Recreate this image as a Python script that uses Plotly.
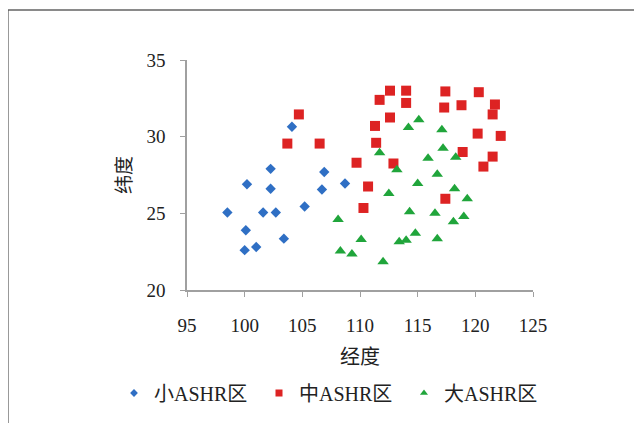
import plotly.graph_objects as go

# Small ASHR region (blue diamonds)
small_lon = [104.1, 102.25, 106.9, 100.2, 102.25, 106.7, 108.7, 98.5, 101.6, 102.7, 105.2, 100.1, 103.4, 100.0, 101.0]
small_lat = [30.65, 27.9, 27.7, 26.9, 26.6, 26.55, 26.95, 25.05, 25.05, 25.05, 25.45, 23.9, 23.35, 22.6, 22.8]

# Medium ASHR region (red squares)
mid_lon = [104.7, 103.7, 106.5, 109.7, 112.6, 114.0, 117.4, 120.3, 111.7, 114.0, 117.3, 118.8, 121.7,
           121.5, 112.6, 111.3, 120.2, 122.2, 111.4, 112.9, 118.9, 121.5, 120.7, 110.7, 110.3, 117.4]
mid_lat = [31.45, 29.55, 29.55, 28.3, 33.0, 33.0, 32.95, 32.9, 32.4, 32.2, 31.9, 32.05, 32.1,
           31.45, 31.25, 30.7, 30.2, 30.05, 29.6, 28.25, 29.0, 28.7, 28.05, 26.75, 25.35, 25.95]

# Large ASHR region (green triangles)
large_lon = [108.1, 108.3, 109.3, 115.1, 114.2, 117.1, 111.7, 117.2, 115.9, 118.3, 113.2, 116.7, 115.0,
             112.5, 118.2, 119.3, 114.3, 116.5, 119.0, 118.1, 110.1, 114.8, 113.4, 114.0, 116.7, 112.0]
large_lat = [24.6, 22.55, 22.35, 31.1, 30.6, 30.45, 28.95, 29.25, 28.6, 28.65, 27.85, 27.55, 26.95,
             26.3, 26.6, 25.95, 25.1, 25.0, 24.8, 24.45, 23.3, 23.7, 23.15, 23.25, 23.35, 21.85]

series_names = ["小ASHR区", "中ASHR区", "大ASHR区"]
x_ticks = [95, 100, 105, 110, 115, 120, 125]
y_ticks = [20, 25, 30, 35]

BLUE, RED, GREEN = "#2f6fc4", "#dd2323", "#20a53b"
FONT = "Liberation Serif, Times New Roman, Noto Sans CJK SC"

fig = go.Figure()
specs = [
    (small_lon, small_lat, "diamond", 8, BLUE, 6),
    (mid_lon, mid_lat, "square", 10, RED, 7),
    (large_lon, large_lat, "triangle-up", 10, GREEN, 7),
]
for (xs, ys, sym, sz, col, lsz), name in zip(specs, series_names):
    fig.add_trace(go.Scatter(x=xs, y=ys, mode="markers", name=name, showlegend=False,
                             marker=dict(symbol=sym, size=sz, color=col, line=dict(width=0))))
for (xs, ys, sym, sz, col, lsz), name in zip(specs, series_names):
    fig.add_trace(go.Scatter(x=[None], y=[None], mode="markers", name=name, showlegend=True,
                             marker=dict(symbol=sym, size=lsz, color=col, line=dict(width=0))))

# page is offset by the 8px body margin
OFF = 8
W, H = 642 - OFF, 431 - OFF - 8
L, R, T = 187 - OFF, 642 - 533, 60 - OFF
B = H - (290 - OFF)
PW, PH = W - L - R, H - T - B

def px(xp):
    return (xp - OFF - L) / PW

def py(yp):
    return (H - B - (yp - OFF)) / PH

fig.update_layout(
    width=W, height=H,
    margin=dict(l=L, r=R, t=T, b=B, pad=0, autoexpand=False),
    paper_bgcolor="white", plot_bgcolor="white",
    font=dict(family=FONT, size=19, color="#222"),
    xaxis=dict(range=[95, 125], tickvals=x_ticks, ticktext=[str(v) for v in x_ticks],
               showgrid=False, zeroline=False, showline=True, linecolor="#a0a0a0", linewidth=1.5,
               ticks="outside", ticklen=5, tickcolor="#a0a0a0", tickwidth=1, ticklabelstandoff=12,
               title=dict(text="经度", font=dict(size=20), standoff=15)),
    yaxis=dict(range=[20, 35], tickvals=y_ticks, ticktext=[str(v) for v in y_ticks],
               showgrid=False, zeroline=False, showline=True, linecolor="#a0a0a0", linewidth=1.5,
               ticks="outside", ticklen=5, tickcolor="#a0a0a0", tickwidth=1, ticklabelstandoff=11,
               title=dict(text="纬度", font=dict(size=19), standoff=10)),
    legend=dict(orientation="h", x=px(114), xanchor="left", y=py(393), yanchor="middle",
                font=dict(size=20), bgcolor="rgba(0,0,0,0)", itemwidth=30, tracegroupgap=0,
                entrywidth=100),
    showlegend=True,
)

# outer frame (top and left edges)
fig.add_shape(type="line", xref="paper", yref="paper", x0=px(8), x1=px(660), y0=py(10), y1=py(10),
              line=dict(color="#8a8a8a", width=2))
fig.add_shape(type="line", xref="paper", yref="paper", x0=px(8), x1=px(8), y0=py(10), y1=py(440),
              line=dict(color="#555", width=1.2))

fig.write_html("out.html")
